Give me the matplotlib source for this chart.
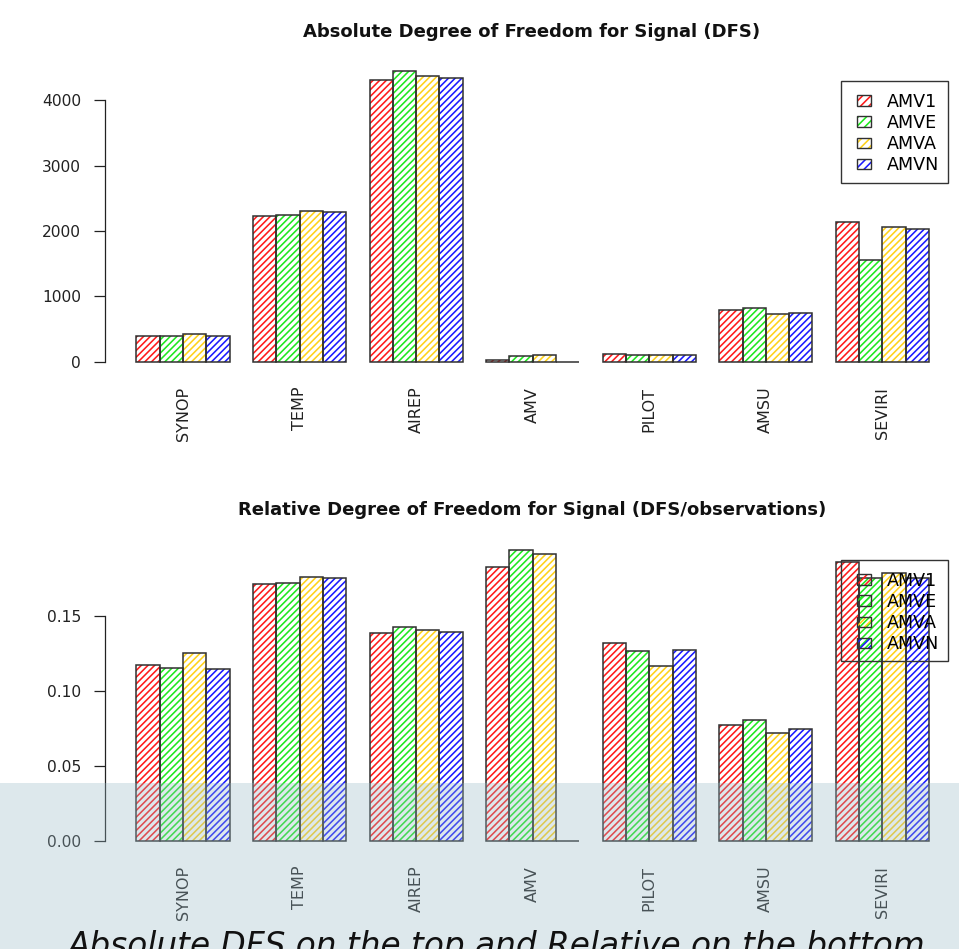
import matplotlib
matplotlib.use("Agg")
import matplotlib.pyplot as plt
from matplotlib.patches import Patch, Rectangle

# Observation types and experiment names
categories = ["SYNOP", "TEMP", "AIREP", "AMV", "PILOT", "AMSU", "SEVIRI"]
series_names = ["AMV1", "AMVE", "AMVA", "AMVN"]

# Absolute DFS per observation type
abs_amv1 = [402, 2234, 4305, 26, 122, 789, 2137]
abs_amve = [392, 2244, 4438, 87, 112, 819, 1562]
abs_amva = [432, 2300, 4366, 107, 107, 728, 2061]
abs_amvn = [397, 2285, 4336, 0, 112, 753, 2031]

# Relative DFS (DFS / number of observations)
rel_amv1 = [0.1173, 0.1711, 0.1387, 0.1829, 0.1322, 0.0776, 0.1858]
rel_amve = [0.1156, 0.1720, 0.1427, 0.1938, 0.1264, 0.0809, 0.1756]
rel_amva = [0.1251, 0.1762, 0.1404, 0.1916, 0.1164, 0.0722, 0.1784]
rel_amvn = [0.1147, 0.1756, 0.1393, 0.0000, 0.1273, 0.0744, 0.1750]

abs_ticks = [0, 1000, 2000, 3000, 4000]
rel_ticks = [0.00, 0.05, 0.10, 0.15]

colors = ["#ff1a1a", "#1ee81e", "#ffd21a", "#1a1aff"]
outline = "#303030"
HATCH = "/////"

plt.rcParams["font.family"] = ["DejaVu Sans"]
plt.rcParams["hatch.linewidth"] = 1.15

W, H = 959, 949
fig = plt.figure(figsize=(W / 100, H / 100), dpi=100)


def fx(px):
    return px / W


def fy(py):
    return 1 - py / H


def panel(top_px, bottom_px, series, ticks, fmt, title, title_px, title_size):
    ax = fig.add_axes([fx(104.7), fy(bottom_px), fx(960.7) - fx(104.7),
                       (bottom_px - top_px) / H])
    ax.patch.set_alpha(0)
    nser = len(series)
    step = nser + 1
    for k, (vals, col) in enumerate(zip(series, colors)):
        lefts = [1 + g * step + k for g in range(len(categories))]
        ax.bar(lefts, vals, width=1, align="edge", facecolor="none",
               edgecolor=col, hatch=HATCH, linewidth=0, zorder=2)
        ax.bar(lefts, vals, width=1, align="edge", facecolor="none",
               edgecolor=outline, linewidth=1.1, zorder=3)
    total = len(categories) * step
    span = total - 1
    ax.set_xlim(1 - 0.04 * span, total + 0.04 * span)
    vmax = max(max(v) for v in series)
    ax.set_ylim(-0.04 * vmax, 1.04 * vmax)

    centers = [1 + g * step + nser / 2 for g in range(len(categories))]
    ax.set_xticks(centers)
    ax.set_xticklabels(categories, rotation=90, fontsize=11.5, color="#222222",
                       va="top")
    ax.tick_params(axis="x", length=0, pad=9.5)

    ax.set_yticks(ticks)
    ax.set_yticklabels([fmt.format(t) for t in ticks], fontsize=11.2,
                       color="#222222")
    ax.tick_params(axis="y", length=7.9, width=0.9, pad=9.2, color="#222222")
    for s in ("top", "right", "bottom"):
        ax.spines[s].set_visible(False)
    ax.spines["left"].set_bounds(ticks[0], ticks[-1])
    ax.spines["left"].set_linewidth(0.9)
    ax.spines["left"].set_color("#222222")

    fig.text(fx(532), fy(title_px), title, ha="center", va="center",
             fontsize=title_size, fontweight="bold", color="#111111")

    # legend box outline, then entries without their own frame
    box_top = top_px + 21.5
    fig.add_artist(Rectangle((fx(840.7), fy(box_top + 101.3)),
                             fx(948.3) - fx(840.7), 101.3 / H,
                             transform=fig.transFigure, facecolor="none",
                             edgecolor="#333333", linewidth=1.0, zorder=20))
    handles = []
    for col in colors:
        handles.append((Patch(facecolor="none", edgecolor=col, hatch="////", linewidth=0),
                        Patch(facecolor="none", edgecolor=outline, linewidth=1.0)))
    leg = ax.legend(handles, series_names, loc="upper left",
                    bbox_to_anchor=(fx(857.3), fy(box_top + 11.6)),
                    bbox_transform=fig.transFigure, fontsize=12.6,
                    frameon=False, borderpad=0, handlelength=0.8,
                    handleheight=0.55, handletextpad=0.9, labelspacing=0.18,
                    borderaxespad=0)
    leg.set_zorder(10)
    return ax


panel(59.7, 373.6, [abs_amv1, abs_amve, abs_amva, abs_amvn], abs_ticks, "{:.0f}",
      "Absolute Degree of Freedom for Signal (DFS)", 32, 13.0)
panel(538.6, 852.6, [rel_amv1, rel_amve, rel_amva, rel_amvn], rel_ticks, "{:.2f}",
      "Relative Degree of Freedom for Signal (DFS/observations)", 510, 12.95)

# Tinted caption strip across the bottom
fig.add_artist(Rectangle((0, 0), 1, fy(782.7), transform=fig.transFigure,
                         facecolor=(152 / 255, 185 / 255, 198 / 255), alpha=0.32,
                         edgecolor="none", zorder=50))
fig.text(fx(496.5), fy(955.7), "Absolute DFS on the top and Relative on the bottom",
         ha="center", va="baseline", fontsize=23.6, style="italic", color="#111111",
         zorder=60)

fig.savefig("out.png", dpi=100)
